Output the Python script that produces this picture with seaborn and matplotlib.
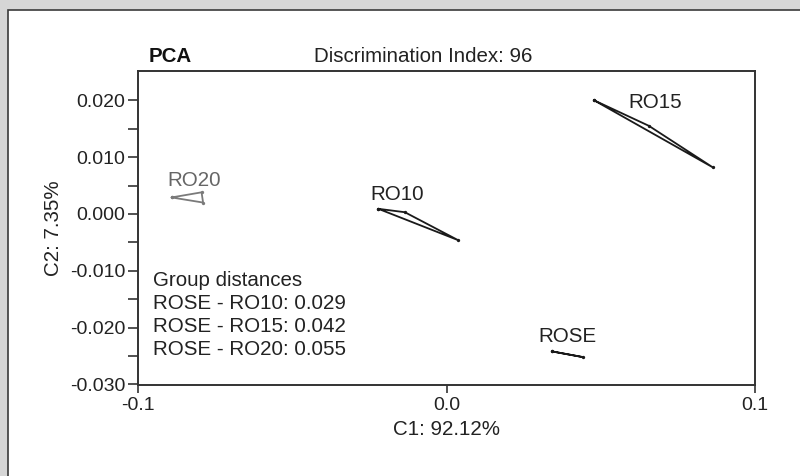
import numpy as np
import pandas as pd
import matplotlib.pyplot as plt
import matplotlib.patches as mpatches
import seaborn as sns

# PCA group hulls (C1, C2 coordinates of each sample)
groups = ['RO20', 'RO10', 'RO15', 'ROSE']
c1_ro20 = [-0.0891, -0.0794, -0.0789]
c2_ro20 = [0.0029, 0.0038, 0.0020]
c1_ro10 = [-0.0221, -0.0135, 0.0037]
c2_ro10 = [0.0009, 0.0003, -0.0046]
c1_ro15 = [0.0478, 0.0656, 0.0863]
c2_ro15 = [0.0200, 0.0155, 0.0082]
c1_rose = [0.0343, 0.0443]
c2_rose = [-0.0242, -0.0252]

# label anchor (baseline) for each group
label_x = [-0.0819, -0.0159, 0.0676, 0.0391]
label_y = [0.0049, 0.0024, 0.0187, -0.0226]

distance_lines = ['Group distances', 'ROSE - RO10: 0.029', 'ROSE - RO15: 0.042', 'ROSE - RO20: 0.055']
x_ticks = [-0.1, 0.0, 0.1]
y_ticks = [-0.030, -0.020, -0.010, 0.000, 0.010, 0.020]

hull_x = [c1_ro20, c1_ro10, c1_ro15, c1_rose]
hull_y = [c2_ro20, c2_ro10, c2_ro15, c2_rose]

rows = []
for g, xs, ys in zip(groups, hull_x, hull_y):
    # close the polygon by returning to the first sample
    for i, (x, y) in enumerate(zip(xs + xs[:1], ys + ys[:1])):
        rows.append({'group': g, 'C1': x, 'C2': y, 'order': i})
df = pd.DataFrame(rows)

sns.set_style('white')
plt.rcParams['font.family'] = ['Liberation Sans', 'DejaVu Sans']
plt.rcParams['axes.unicode_minus'] = False

palette = {'RO20': '#7a7a7a', 'RO10': '#1a1a1a', 'RO15': '#1a1a1a', 'ROSE': '#1a1a1a'}
text_col = '#222222'
fs = 14.8

fig = plt.figure(figsize=(8, 4.76), dpi=100, facecolor='#d6d6d6')
frame = mpatches.Rectangle((8 / 800, -0.05), 1.1, 1 - 10 / 476 + 0.05,
                           transform=fig.transFigure, facecolor='white',
                           edgecolor='#3a3a3a', linewidth=1.2, zorder=-10)
fig.patches.append(frame)

ax = fig.add_axes([138 / 800, 91 / 476, 617 / 800, 314.3 / 476], zorder=5)
ax.patch.set_alpha(0)
sns.lineplot(data=df, x='C1', y='C2', hue='group', palette=palette, sort=False,
             estimator=None, units='group', linewidth=1.3, marker='o', markersize=2.4,
             markeredgewidth=0, legend=False, ax=ax)

for g, lx, ly in zip(groups, label_x, label_y):
    ax.text(lx, ly, g, ha='center', va='baseline', fontsize=fs,
            color='#666666' if g == 'RO20' else text_col)

for i, line in enumerate(distance_lines):
    ax.text(0.024, 0.315 - i * 0.0732, line, transform=ax.transAxes,
            ha='left', va='baseline', fontsize=fs, color=text_col)

ax.set_xlim(-0.1, 0.1)
ax.set_ylim(-0.0301, 0.0252)
ax.set_xticks(x_ticks)
ax.set_xticklabels([f'{v:.1f}' for v in x_ticks])
ax.set_yticks(y_ticks)
ax.set_yticklabels([f'{v:.3f}' for v in y_ticks])
ax.set_yticks(np.arange(-0.025, 0.025, 0.01), minor=True)
ax.tick_params(axis='both', which='both', direction='out', color='#333333',
               width=1.2, labelsize=14, labelcolor=text_col)
ax.tick_params(axis='y', which='both', length=7, pad=2, left=True)
ax.tick_params(axis='x', which='major', length=6, pad=3, bottom=True)

for s in ax.spines.values():
    s.set_color('#333333')
    s.set_linewidth(1.4)

ax.set_xlabel('C1: 92.12%', fontsize=fs, color=text_col)
ax.set_ylabel('C2: 7.35%', fontsize=fs, color=text_col)
ax.xaxis.set_label_coords(0.5, -0.112)
ax.yaxis.set_label_coords(-0.121, 0.5)

fig.text(149 / 800, 1 - 62 / 476, 'PCA', fontsize=fs, fontweight='bold',
         color='#111111', ha='left', va='baseline')
fig.text(314 / 800, 1 - 62 / 476, 'Discrimination Index: 96', fontsize=fs,
         color=text_col, ha='left', va='baseline')

plt.savefig('out.png', dpi=100, facecolor=fig.get_facecolor())
